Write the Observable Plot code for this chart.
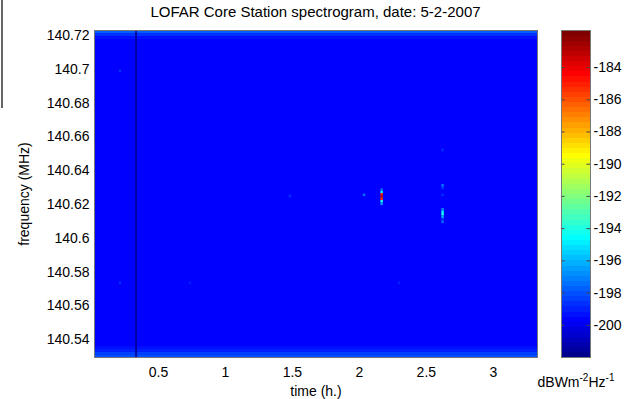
<!DOCTYPE html>
<html><head><meta charset="utf-8">
<script src="https://cdn.jsdelivr.net/npm/d3@7"></script>
<script src="https://cdn.jsdelivr.net/npm/@observablehq/plot@0.6"></script>
<style>
body{margin:0;background:#fff;font-family:"Liberation Sans",Arial,sans-serif;}
#wrap{position:relative;width:626px;height:399px;overflow:hidden;background:#fff;}
#title{position:absolute;left:94px;width:443px;top:3px;text-align:center;font-size:15px;color:#000;white-space:nowrap;}
#main{position:absolute;left:0;top:0;}
#cbar{position:absolute;left:540px;top:0;}
#unit{position:absolute;left:530px;width:92px;top:372px;text-align:center;font-size:14px;color:#000;white-space:nowrap;}
#unit sup{font-size:10px;}
#edge{position:absolute;left:1px;top:0;width:2px;height:108px;background:#666;}
</style></head>
<body>
<div id="wrap">
  <div id="edge"></div>
  <div id="main"></div>
  <div id="cbar"></div>
  <div id="title"></div>
  <div id="unit"></div>
</div>
<script>
// ---- text ----
const titleText = "LOFAR Core Station spectrogram, date: 5-2-2007";
const xLabel = "time (h.)";
const yLabel = "frequency (MHz)";
const unitHtml = "dBWm<sup>-2</sup>Hz<sup>-1</sup>";

// ---- scales ----
const timeDomain = [0.022, 3.33];
const freqDomain = [140.5294, 140.723];
const levelDomain = [-202, -181.7];
const timeTicks = [0.5, 1, 1.5, 2, 2.5, 3];
const freqTicks = [140.54, 140.56, 140.58, 140.6, 140.62, 140.64, 140.66, 140.68, 140.7, 140.72];
const levelTicks = [-200, -198, -196, -194, -192, -190, -188, -186, -184];

// ---- data ----
const backgroundLevel = -199.7;
// edge bands of the passband (freq from, freq to, level)
const bandFreqLo = [140.7212, 140.7194, 140.7176, 140.5294, 140.5310, 140.5326, 140.5342];
const bandFreqHi = [140.7230, 140.7212, 140.7194, 140.5310, 140.5326, 140.5342, 140.5358];
const bandLevel  = [-197.8, -198.6, -199.2, -197.9, -198.5, -199.0, -199.3];
// data drop-out column
const gapTimeLo = [0.330];
const gapTimeHi = [0.342];
const gapLevel = [-201.9];
// narrow-band cells (time h, freq MHz, level)
const cellTime = [2.170, 2.170, 2.170, 2.170, 2.170, 2.170, 2.170,
                  2.625, 2.625, 2.625, 2.625, 2.625, 2.625, 2.625, 2.625, 2.625, 2.625,
                  2.039, 1.485, 0.216, 0.216, 0.738, 2.300];
const cellFreq = [140.6285, 140.6270, 140.6257, 140.6244, 140.6231, 140.6216, 140.6201,
                  140.6520, 140.6310, 140.6295, 140.6254, 140.6168, 140.6153, 140.6139, 140.6124, 140.6109, 140.6094,
                  140.6254, 140.6248, 140.6988, 140.5733, 140.5733, 140.5733];
const cellLevel = [-197.5, -194.5, -185.0, -183.0, -185.5, -194.0, -196.5,
                   -198.8, -197.0, -198.5, -198.8, -196.8, -194.6, -194.0, -196.0, -198.8, -197.5,
                   -197.5, -198.6, -198.8, -198.8, -198.9, -199.0];
const cellDt = 0.018, cellDf = 0.0015;

// ---- jet colormap (64 levels) ----
const jet = t => {
  const k = Math.max(0, Math.min(63, Math.floor(t * 64)));
  const u = (k + 1) / 64;
  const c = v => Math.round(255 * Math.max(0, Math.min(1, v)));
  return `rgb(${c(1.5 - Math.abs(4*u - 3))},${c(1.5 - Math.abs(4*u - 2))},${c(1.5 - Math.abs(4*u - 1))})`;
};
const colorScale = {type: "linear", domain: levelDomain, interpolate: jet, clamp: true};
const fontStyle = {fontSize: "14px", fontFamily: "Liberation Sans, Arial, sans-serif", color: "#000", background: "transparent", overflow: "visible"};

const bands = bandLevel.map((v, i) => ({lo: bandFreqLo[i], hi: bandFreqHi[i], v}));
const gaps = gapLevel.map((v, i) => ({lo: gapTimeLo[i], hi: gapTimeHi[i], v}));
const cells = cellLevel.map((v, i) => ({t: cellTime[i], f: cellFreq[i], v}));

const main = Plot.plot({
  width: 560, height: 399,
  marginLeft: 94, marginRight: 23, marginTop: 30, marginBottom: 42,
  style: fontStyle,
  x: {domain: timeDomain, ticks: timeTicks, tickFormat: d => String(d), tickSize: 0, tickPadding: 10,
      label: xLabel, labelAnchor: "center", labelOffset: 38, labelArrow: "none"},
  y: {domain: freqDomain, ticks: freqTicks, tickFormat: d => String(+d.toFixed(2)), tickSize: 0, tickPadding: 5,
      label: yLabel, labelAnchor: "center", labelOffset: 75, labelArrow: "none"},
  color: colorScale,
  marks: [
    Plot.rect([backgroundLevel], {x1: timeDomain[0], x2: timeDomain[1], y1: freqDomain[0], y2: freqDomain[1], fill: d => d}),
    Plot.rect(bands, {x1: timeDomain[0], x2: timeDomain[1], y1: "lo", y2: "hi", fill: "v"}),
    Plot.rect(gaps, {x1: "lo", x2: "hi", y1: freqDomain[0], y2: freqDomain[1], fill: "v"}),
    Plot.rect(cells, {x1: d => d.t - cellDt/2, x2: d => d.t + cellDt/2, y1: d => d.f - cellDf/2, y2: d => d.f + cellDf/2, fill: "v"}),
    Plot.frame({stroke: "#777"})
  ]
});
document.getElementById("main").append(main);

const cbar = Plot.plot({
  width: 86, height: 399,
  marginLeft: 21, marginRight: 36, marginTop: 30, marginBottom: 42,
  style: fontStyle,
  x: {domain: [0, 1], axis: null},
  y: {domain: levelDomain, axis: "right", ticks: levelTicks, tickFormat: d => String(d), tickSize: 0, tickPadding: 3, label: null},
  color: colorScale,
  marks: [
    Plot.raster({x1: 0, x2: 1, y1: levelDomain[0], y2: levelDomain[1], width: 1, height: 256, fill: (x, y) => y, imageRendering: "pixelated"}),
    Plot.ruleY(levelTicks, {x1: 0, x2: 0.12, stroke: "#444"}),
    Plot.ruleY(levelTicks, {x1: 0.88, x2: 1, stroke: "#444"}),
    Plot.frame({stroke: "#777"})
  ]
});
document.getElementById("cbar").append(cbar);

document.getElementById("title").textContent = titleText;
document.getElementById("unit").innerHTML = unitHtml;
</script>
</body></html>
